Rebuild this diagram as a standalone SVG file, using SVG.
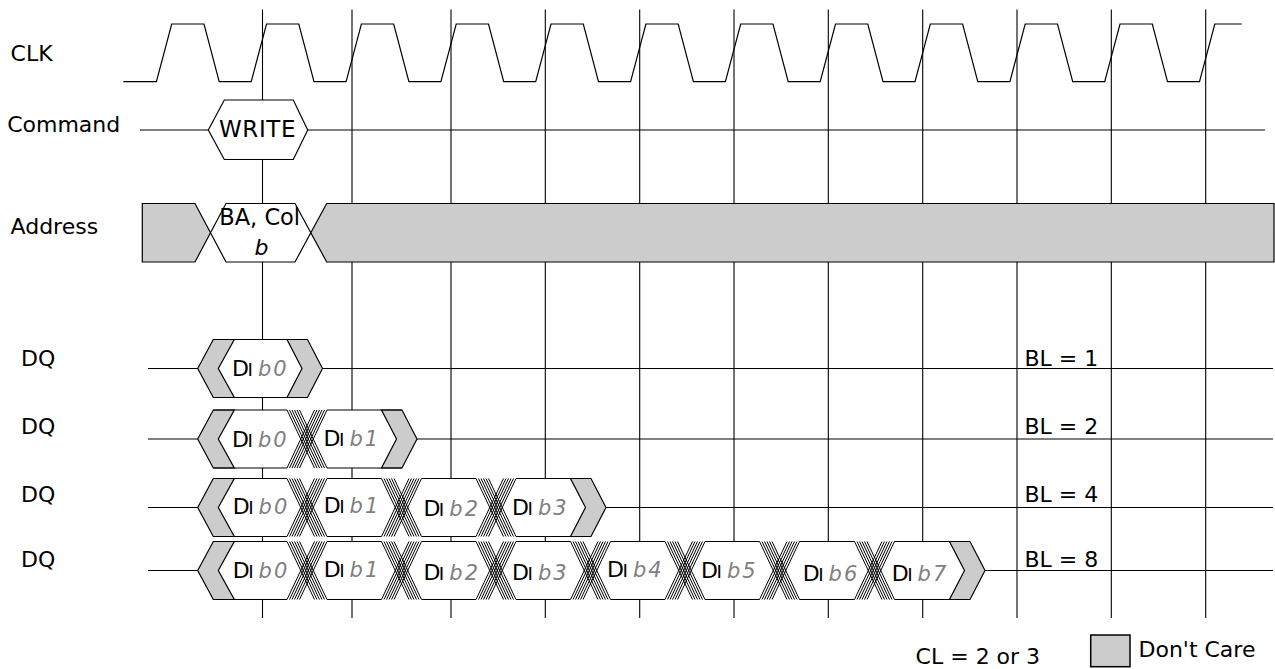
<svg xmlns="http://www.w3.org/2000/svg" xmlns:xlink="http://www.w3.org/1999/xlink" width="1275" height="669" viewBox="0 0 1275 669">
<style>
text{font-family:"DejaVu Sans","Liberation Sans",sans-serif;fill:#000}
.lbl{font-size:22px}
.di{font-size:22px}
.sc{font-size:18.5px}
.it{font-style:italic;fill:#808080;font-size:21px;letter-spacing:2px}
.ln{fill:none;stroke:#000;stroke-width:1.2}
.grid{fill:none;stroke:#000;stroke-width:1.1}
.gray{fill:#cccccc;stroke:#000;stroke-width:1.2;stroke-linejoin:miter}
.wh{fill:#fff;stroke:#000;stroke-width:1.2}
.bg{fill:#fff;stroke:none}
.hatch{fill:none;stroke:#000;stroke-width:1}
</style>
<defs>
<path id="hx" class="hatch" d="M-20.5,-29 L7,29 M-18,-29 L9.5,29 M-15.5,-29 L12,29 M-13,-29 L14.5,29 M-10.5,-29 L17,29 M-8,-29 L19.5,29 M7,-29 L-20.5,29 M9.5,-29 L-18,29 M12,-29 L-15.5,29 M14.5,-29 L-13,29 M17,-29 L-10.5,29 M19.5,-29 L-8,29"/>
<polygon id="lend" class="gray" points="197.7,0 213.3,-29 234.3,-29 218.3,0 234.3,29 213.3,29"/>
<polygon id="rend" class="gray" points="-20.5,-29 0,-29 15,0 0,29 -20.5,29 -5.5,0"/>
</defs>

<g id="gridlines">
<path class="grid" d="M262.5,9.5 V618 M352,9.5 V618 M451,9.5 V618 M545.3,9.5 V618 M639.7,9.5 V618 M734,9.5 V618 M828.3,9.5 V618 M922.7,9.5 V618 M1017,9.5 V618 M1111.3,9.5 V618 M1205.7,9.5 V618"/>
</g>

<g id="clk">
<text class="lbl" x="10.6" y="61">CLK</text>
<path class="ln" d="M123.3,81.7 L156.4,81.7 L171.7,24 L204,24 L219.2,81.7 L251.2,81.7 L266.5,24 L298.8,24 L314,81.7 L346.1,81.7 L361.4,24 L393.7,24 L408.9,81.7 L440.9,81.7 L456.2,24 L488.5,24 L503.7,81.7 L535.7,81.7 L551,24 L583.3,24 L598.5,81.7 L630.6,81.7 L645.9,24 L678.2,24 L693.4,81.7 L725.4,81.7 L740.7,24 L773,24 L788.2,81.7 L820.2,81.7 L835.5,24 L867.8,24 L883,81.7 L915,81.7 L930.3,24 L962.6,24 L977.8,81.7 L1009.9,81.7 L1025.2,24 L1057.5,24 L1072.7,81.7 L1104.7,81.7 L1120,24 L1152.3,24 L1167.5,81.7 L1199.5,81.7 L1214.8,24 L1241.7,24"/>
</g>

<g id="command">
<text class="lbl" x="7.2" y="132.3">Command</text>
<path class="ln" d="M140,130 H1265"/>
<polygon class="wh" points="208.3,130 224.3,100 293.3,100 307.7,130 293.3,159.5 224.3,159.5"/>
<text x="257.5" y="137.3" font-size="23" letter-spacing="0.6" text-anchor="middle">WRITE</text>
</g>

<g id="address">
<text class="lbl" x="10.5" y="234">Address</text>
<polygon class="gray" points="142.3,203.5 195,203.5 210.5,232.75 195,262 142.3,262"/>
<polygon class="wh" points="210.5,232.75 226,203.5 295,203.5 310.8,232.75 295,262 226,262"/>
<polygon class="gray" points="310.8,232.75 326.7,203.5 1274,203.5 1274,262 326.7,262"/>
<text x="259.7" y="225" font-size="22.5" text-anchor="middle">BA, Col</text>
<text x="261.5" y="255" font-size="22" text-anchor="middle" font-style="italic" fill="#808080">b</text>
</g>

<g id="dq-bl1">
<text class="lbl" x="21" y="365.7">DQ</text>
<path class="ln" d="M148,368.5 H1273"/>
<polygon class="bg" points="197.7,368.5 213.3,339.5 307.5,339.5 322.5,368.5 307.5,397.5 213.3,397.5"/>
<use xlink:href="#lend" href="#lend" y="368.5"/>
<use xlink:href="#rend" href="#rend" x="307.5" y="368.5"/>
<path class="ln" d="M213.3,339.5 H307.5 M213.3,397.5 H307.5"/>
<text class="di" x="232" y="376">D<tspan class="sc" dx="-1.5">I</tspan><tspan class="it" dx="5">b0</tspan></text>
<text class="lbl" x="1024.5" y="365.7">BL = 1</text>
</g>

<g id="dq-bl2">
<text class="lbl" x="21" y="434">DQ</text>
<path class="ln" d="M148,439 H1273"/>
<polygon class="bg" points="197.7,439 213.3,410 402,410 417,439 402,468 213.3,468"/>
<use xlink:href="#lend" href="#lend" y="439"/>
<use xlink:href="#rend" href="#rend" x="402" y="439"/>
<path class="ln" d="M213.3,410 H287 M327,410 H402 M213.3,468 H287 M327,468 H402"/>
<use xlink:href="#hx" href="#hx" x="307.5" y="439"/>
<text class="di" x="232" y="446.5">D<tspan class="sc" dx="-1.5">I</tspan><tspan class="it" dx="5">b0</tspan></text>
<text class="di" x="323.5" y="446">D<tspan class="sc" dx="-1.5">I</tspan><tspan class="it" dx="5">b1</tspan></text>
<text class="lbl" x="1024.5" y="434">BL = 2</text>
</g>

<g id="dq-bl4">
<text class="lbl" x="21" y="502">DQ</text>
<path class="ln" d="M148,507.5 H1273"/>
<polygon class="bg" points="197.7,507.5 213.3,478.5 591,478.5 606,507.5 591,536.5 213.3,536.5"/>
<use xlink:href="#lend" href="#lend" y="507.5"/>
<use xlink:href="#rend" href="#rend" x="591" y="507.5"/>
<path class="ln" d="M213.3,478.5 H287 M327,478.5 H381.5 M421.5,478.5 H476 M516,478.5 H591 M213.3,536.5 H287 M327,536.5 H381.5 M421.5,536.5 H476 M516,536.5 H591"/>
<use xlink:href="#hx" href="#hx" x="307.5" y="507.5"/>
<use xlink:href="#hx" href="#hx" x="402" y="507.5"/>
<use xlink:href="#hx" href="#hx" x="496.5" y="507.5"/>
<text class="di" x="232.7" y="514">D<tspan class="sc" dx="-1.5">I</tspan><tspan class="it" dx="5">b0</tspan></text>
<text class="di" x="323.7" y="513">D<tspan class="sc" dx="-1.5">I</tspan><tspan class="it" dx="5">b1</tspan></text>
<text class="di" x="423.4" y="515.5">D<tspan class="sc" dx="-1.5">I</tspan><tspan class="it" dx="5">b2</tspan></text>
<text class="di" x="512" y="515">D<tspan class="sc" dx="-1.5">I</tspan><tspan class="it" dx="5">b3</tspan></text>
<text class="lbl" x="1024.5" y="502">BL = 4</text>
</g>

<g id="dq-bl8">
<text class="lbl" x="21" y="566.7">DQ</text>
<path class="ln" d="M148,570.5 H1273"/>
<polygon class="bg" points="197.7,570.5 213.3,541.5 970,541.5 985,570.5 970,599.5 213.3,599.5"/>
<use xlink:href="#lend" href="#lend" y="570.5"/>
<use xlink:href="#rend" href="#rend" x="970" y="570.5"/>
<path class="ln" d="M213.3,541.5 H287 M327,541.5 H381.5 M421.5,541.5 H476 M516,541.5 H570.5 M610.5,541.5 H665 M705,541.5 H759.5 M799.5,541.5 H854.5 M894.5,541.5 H970 M213.3,599.5 H287 M327,599.5 H381.5 M421.5,599.5 H476 M516,599.5 H570.5 M610.5,599.5 H665 M705,599.5 H759.5 M799.5,599.5 H854.5 M894.5,599.5 H970"/>
<use xlink:href="#hx" href="#hx" x="307.5" y="570.5"/>
<use xlink:href="#hx" href="#hx" x="402" y="570.5"/>
<use xlink:href="#hx" href="#hx" x="496.5" y="570.5"/>
<use xlink:href="#hx" href="#hx" x="591" y="570.5"/>
<use xlink:href="#hx" href="#hx" x="685.5" y="570.5"/>
<use xlink:href="#hx" href="#hx" x="780" y="570.5"/>
<use xlink:href="#hx" href="#hx" x="875" y="570.5"/>
<text class="di" x="232.7" y="577.5">D<tspan class="sc" dx="-1.5">I</tspan><tspan class="it" dx="5">b0</tspan></text>
<text class="di" x="323.7" y="576.5">D<tspan class="sc" dx="-1.5">I</tspan><tspan class="it" dx="5">b1</tspan></text>
<text class="di" x="423.4" y="579.5">D<tspan class="sc" dx="-1.5">I</tspan><tspan class="it" dx="5">b2</tspan></text>
<text class="di" x="512" y="579.5">D<tspan class="sc" dx="-1.5">I</tspan><tspan class="it" dx="5">b3</tspan></text>
<text class="di" x="607" y="577">D<tspan class="sc" dx="-1.5">I</tspan><tspan class="it" dx="5">b4</tspan></text>
<text class="di" x="701" y="577.5">D<tspan class="sc" dx="-1.5">I</tspan><tspan class="it" dx="5">b5</tspan></text>
<text class="di" x="802.7" y="580.5">D<tspan class="sc" dx="-1.5">I</tspan><tspan class="it" dx="5">b6</tspan></text>
<text class="di" x="891.7" y="580.5">D<tspan class="sc" dx="-1.5">I</tspan><tspan class="it" dx="5">b7</tspan></text>
<text class="lbl" x="1024.5" y="566.7">BL = 8</text>
</g>

<g id="legend">
<text class="lbl" x="915.6" y="664">CL = 2 or 3</text>
<rect x="1090.7" y="635" width="39.3" height="31.7" fill="#cccccc" stroke="#000" stroke-width="1.5"/>
<text class="lbl" x="1138.5" y="656.7">Don't Care</text>
</g>
</svg>
